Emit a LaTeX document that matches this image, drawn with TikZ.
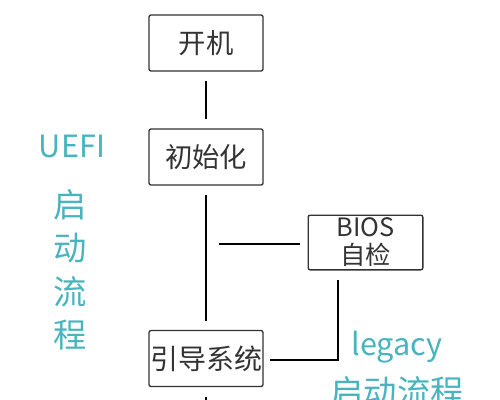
\documentclass[tikz,border=0pt]{standalone}
\usepackage{fontspec}
\setmainfont{Noto Sans CJK SC}
\definecolor{qing}{RGB}{72,180,190}
\definecolor{zi}{RGB}{51,51,51}
\begin{document}
\begin{tikzpicture}[x=0.75pt,y=-0.75pt,
    kuang/.style={draw=zi,line width=1pt,rounded corners=1.5pt,minimum width=85.5pt,minimum height=42pt,inner sep=0pt,text=zi,font=\fontsize{20.5}{21}\selectfont},
    xian/.style={line width=1.5pt,shorten <=7pt,shorten >=7pt},
    biaoti/.style={text=qing,inner sep=0pt}]
  \clip (0,0) rectangle (500,400);
  \node[kuang] (kaiji) at (206,43) {开机};
  \node[kuang] (chushi) at (206,157) {初始化};
  \node[kuang,font=\fontsize{21}{21}\selectfont] (yindao) at (206,358.5) {引导系统};
  \node[kuang,minimum width=86pt,minimum height=41pt,align=center,font=\fontsize{19}{21}\selectfont] (bios) at (365.5,242.5) {BIOS\\自检};
  \draw[xian] (kaiji) -- (chushi);
  \draw[xian] (chushi) -- (yindao);
  \coordinate (fen) at (219,244);
  \draw[xian,shorten <=0pt,shorten >=6pt] (fen) -- (fen -| bios.west);
  \coordinate (zhe) at (338,360);
  \draw[xian,shorten >=4.5pt] (bios.south -| zhe) -- (zhe) -- (yindao.east |- zhe);
  \coordinate (di) at (206,402);
  \draw[xian,shorten >=0pt] (yindao) -- (di);
  \node[biaoti,anchor=base,font=\fontsize{23}{23}\selectfont] (uefi) at (72,157) {UEFI};
  \node[biaoti,align=center,font=\fontsize{25}{32.6}\selectfont] (uefiliu) at (70,270) {启\\动\\流\\程};
  \node[biaoti,anchor=base,font=\fontsize{23}{23}\selectfont] (legacy) at (397,355) {legacy};
  \node[biaoti,font=\fontsize{25}{25}\selectfont] (legacyliu) at (397,392) {启动流程};
\end{tikzpicture}
\end{document}
